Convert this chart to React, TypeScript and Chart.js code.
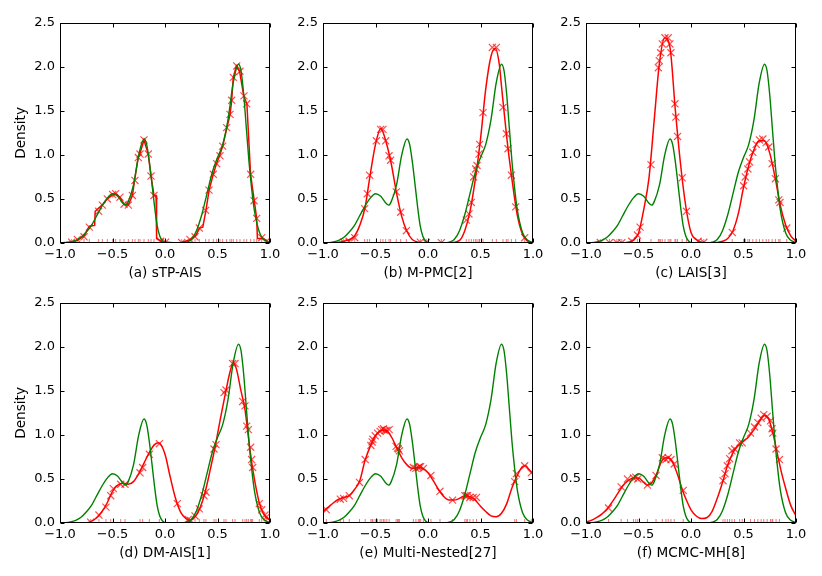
import { useEffect, useRef } from "react";
import { Chart, registerables, type Plugin } from "chart.js";

Chart.register(...registerables);

type Pt = [number, number];

const xTicks = [-1, -0.5, 0, 0.5, 1];
const yTicks = [0, 0.5, 1, 1.5, 2, 2.5];

const captions = [
  "(a) sTP-AIS",
  "(b) M-PMC[2]",
  "(c) LAIS[3]",
  "(d) DM-AIS[1]",
  "(e) Multi-Nested[27]",
  "(f) MCMC-MH[8]"
];

// target density (green), same in every panel
const trueDensity: Pt[] = [
  [-1, 0], [-0.95, 0.003], [-0.9, 0.012], [-0.85, 0.03], [-0.8, 0.065], [-0.75, 0.125],
  [-0.7, 0.2], [-0.65, 0.31], [-0.6, 0.42], [-0.55, 0.51], [-0.5, 0.56], [-0.45, 0.53],
  [-0.4, 0.45], [-0.375, 0.43], [-0.35, 0.47], [-0.3, 0.66], [-0.25, 1.0], [-0.2, 1.18],
  [-0.175, 1.12], [-0.15, 0.93], [-0.125, 0.68], [-0.1, 0.42], [-0.075, 0.2], [-0.05, 0.08],
  [-0.025, 0.025], [0, 0.005], [0.05, 0], [0.15, 0], [0.2, 0.01], [0.25, 0.04], [0.3, 0.14],
  [0.35, 0.32], [0.4, 0.56], [0.45, 0.8], [0.5, 0.97], [0.55, 1.12], [0.6, 1.4], [0.65, 1.82],
  [0.7, 2.03], [0.725, 1.95], [0.75, 1.68], [0.775, 1.3], [0.8, 0.92], [0.825, 0.62],
  [0.85, 0.38], [0.9, 0.12], [0.95, 0.03], [1, 0.005]
];

// estimated densities (red lines)
const estA: Pt[] = [
  [-1, 0], [-0.89, 0.01], [-0.835, 0.03], [-0.77, 0.08], [-0.72, 0.19], [-0.67, 0.2],
  [-0.665, 0.36], [-0.6, 0.43], [-0.55, 0.5], [-0.5, 0.55], [-0.47, 0.56], [-0.43, 0.52],
  [-0.39, 0.44], [-0.35, 0.43], [-0.31, 0.54], [-0.29, 0.71], [-0.255, 0.97], [-0.24, 1.01],
  [-0.2, 1.17], [-0.16, 1.01], [-0.133, 0.76], [-0.105, 0.54], [-0.085, 0.54], [-0.08, 0.05],
  [-0.04, 0.02], [0, 0.01], [0.1, 0], [0.16, 0.005], [0.24, 0.04], [0.29, 0.08], [0.33, 0.17],
  [0.36, 0.18], [0.39, 0.37], [0.42, 0.6], [0.46, 0.78], [0.49, 0.9], [0.52, 0.99], [0.55, 1.1],
  [0.59, 1.31], [0.62, 1.46], [0.635, 1.62], [0.65, 1.88], [0.68, 2.01], [0.71, 1.95],
  [0.75, 1.67], [0.78, 1.58], [0.815, 0.78], [0.85, 0.48], [0.873, 0.28], [0.88, 0.05],
  [0.92, 0.05], [0.95, 0.04], [0.97, 0.02], [1, 0]
];
const estB: Pt[] = [
  [-1, 0], [-0.9, 0.005], [-0.8, 0.02], [-0.7, 0.08], [-0.65, 0.2], [-0.6, 0.4], [-0.55, 0.78],
  [-0.5, 1.12], [-0.45, 1.3], [-0.4, 1.15], [-0.35, 0.9], [-0.3, 0.57], [-0.25, 0.3], [-0.2, 0.13],
  [-0.15, 0.04], [-0.1, 0.012], [-0.05, 0.003], [0, 0], [0.2, 0], [0.3, 0.03], [0.35, 0.14],
  [0.4, 0.36], [0.45, 0.72], [0.5, 1.18], [0.55, 1.75], [0.6, 2.12], [0.64, 2.21], [0.68, 2.02],
  [0.7, 1.78], [0.75, 1.2], [0.8, 0.72], [0.85, 0.32], [0.9, 0.1], [0.95, 0.02], [1, 0]
];
const estC: Pt[] = [
  [-1, 0], [-0.7, 0], [-0.6, 0.01], [-0.55, 0.03], [-0.5, 0.11], [-0.45, 0.38], [-0.4, 0.74],
  [-0.35, 1.4], [-0.3, 2.05], [-0.25, 2.33], [-0.2, 2.22], [-0.15, 1.52], [-0.1, 0.9],
  [-0.05, 0.42], [0, 0.12], [0.05, 0.04], [0.1, 0.01], [0.2, 0], [0.3, 0.02], [0.35, 0.05],
  [0.4, 0.14], [0.45, 0.33], [0.5, 0.63], [0.55, 0.88], [0.6, 1.06], [0.65, 1.16], [0.7, 1.16],
  [0.75, 1.02], [0.8, 0.75], [0.85, 0.43], [0.9, 0.21], [0.95, 0.08], [1, 0.02]
];
const estD: Pt[] = [
  [-1, 0], [-0.8, 0], [-0.72, 0.01], [-0.65, 0.06], [-0.6, 0.13], [-0.55, 0.23], [-0.5, 0.36],
  [-0.45, 0.43], [-0.4, 0.45], [-0.35, 0.44], [-0.3, 0.47], [-0.25, 0.56], [-0.2, 0.68],
  [-0.15, 0.8], [-0.1, 0.89], [-0.06, 0.91], [0, 0.78], [0.05, 0.52], [0.1, 0.28], [0.15, 0.12],
  [0.2, 0.05], [0.24, 0.03], [0.28, 0.06], [0.33, 0.16], [0.38, 0.34], [0.43, 0.6], [0.48, 0.88],
  [0.53, 1.2], [0.58, 1.5], [0.62, 1.72], [0.65, 1.82], [0.68, 1.75], [0.72, 1.52], [0.76, 1.3],
  [0.78, 1.12], [0.8, 0.92], [0.84, 0.58], [0.9, 0.22], [0.95, 0.08], [1, 0.03]
];
const estE: Pt[] = [
  [-1, 0.13], [-0.95, 0.18], [-0.9, 0.23], [-0.85, 0.27], [-0.8, 0.29], [-0.75, 0.31],
  [-0.7, 0.38], [-0.65, 0.48], [-0.6, 0.71], [-0.55, 0.87], [-0.5, 0.99], [-0.45, 1.05],
  [-0.4, 1.05], [-0.35, 0.98], [-0.3, 0.86], [-0.25, 0.74], [-0.2, 0.66], [-0.15, 0.62],
  [-0.1, 0.63], [-0.05, 0.62], [0, 0.57], [0.05, 0.48], [0.1, 0.38], [0.15, 0.3], [0.2, 0.26],
  [0.25, 0.26], [0.3, 0.28], [0.35, 0.31], [0.4, 0.3], [0.45, 0.26], [0.5, 0.19], [0.55, 0.13],
  [0.6, 0.08], [0.65, 0.07], [0.7, 0.11], [0.75, 0.22], [0.8, 0.4], [0.85, 0.54], [0.9, 0.64],
  [0.93, 0.65], [0.96, 0.61], [1, 0.56]
];
const estF: Pt[] = [
  [-1, 0.01], [-0.95, 0.03], [-0.9, 0.06], [-0.85, 0.1], [-0.8, 0.16], [-0.75, 0.24],
  [-0.7, 0.33], [-0.65, 0.42], [-0.6, 0.48], [-0.55, 0.51], [-0.5, 0.51], [-0.45, 0.46],
  [-0.42, 0.43], [-0.38, 0.45], [-0.33, 0.55], [-0.28, 0.7], [-0.24, 0.74], [-0.2, 0.73],
  [-0.16, 0.65], [-0.12, 0.52], [-0.08, 0.37], [-0.04, 0.25], [0, 0.15], [0.05, 0.08],
  [0.1, 0.05], [0.15, 0.06], [0.2, 0.13], [0.25, 0.28], [0.3, 0.46], [0.35, 0.66], [0.4, 0.8],
  [0.45, 0.88], [0.5, 0.93], [0.55, 0.98], [0.6, 1.06], [0.65, 1.15], [0.7, 1.22], [0.74, 1.18],
  [0.78, 1.02], [0.82, 0.8], [0.86, 0.58], [0.9, 0.4], [0.95, 0.2], [1, 0.08]
];

// samples (x markers, also the rug along the bottom)
const samplesA: Pt[] = [
  [-0.889, 0.01], [-0.835, 0.04], [-0.771, 0.07], [-0.721, 0.18], [-0.632, 0.36], [-0.597, 0.43],
  [-0.549, 0.5], [-0.498, 0.55], [-0.47, 0.56], [-0.429, 0.52], [-0.39, 0.44], [-0.349, 0.43],
  [-0.311, 0.54], [-0.286, 0.71], [-0.254, 0.97], [-0.238, 1.01], [-0.2, 1.17], [-0.159, 1.01],
  [-0.133, 0.76], [-0.105, 0.54], [-0.041, 0.02], [0.006, 0.01], [0.159, 0.005], [0.238, 0.04],
  [0.286, 0.07], [0.327, 0.17], [0.387, 0.37], [0.419, 0.6], [0.46, 0.78], [0.492, 0.9],
  [0.524, 0.99], [0.549, 1.1], [0.587, 1.31], [0.619, 1.46], [0.635, 1.62], [0.651, 1.88],
  [0.683, 2.01], [0.714, 1.95], [0.752, 1.67], [0.778, 1.58], [0.816, 0.78], [0.848, 0.48],
  [0.873, 0.28], [0.921, 0.06], [0.968, 0.02]
];
const samplesB: Pt[] = [
  [-0.803, 0.01], [-0.752, 0.02], [-0.698, 0.06], [-0.603, 0.39], [-0.578, 0.56], [-0.556, 0.77],
  [-0.492, 1.16], [-0.451, 1.29], [-0.429, 1.29], [-0.403, 1.16], [-0.371, 0.99], [-0.356, 0.94],
  [-0.302, 0.58], [-0.26, 0.35], [-0.206, 0.14], [-0.073, 0.01], [-0.016, 0.005], [0.127, 0.003],
  [0.365, 0.26], [0.39, 0.33], [0.413, 0.46], [0.435, 0.75], [0.454, 0.84], [0.467, 0.88],
  [0.486, 1.01], [0.492, 1.12], [0.524, 1.48], [0.613, 2.22], [0.651, 2.22], [0.714, 1.54],
  [0.746, 1.24], [0.762, 1.07], [0.794, 0.77], [0.835, 0.41], [0.921, 0.06]
];
const samplesC: Pt[] = [
  [-0.864, 0.005], [-0.776, 0.003], [-0.706, 0.003], [-0.659, 0.003], [-0.564, 0.02],
  [-0.51, 0.09], [-0.485, 0.18], [-0.381, 0.89], [-0.311, 1.99], [-0.302, 2.07], [-0.289, 2.16],
  [-0.273, 2.26], [-0.248, 2.33], [-0.217, 2.33], [-0.201, 2.26], [-0.191, 2.16], [-0.153, 1.58],
  [-0.144, 1.43], [-0.128, 1.21], [-0.084, 0.74], [-0.043, 0.36], [0.068, 0.02], [0.122, 0.008],
  [0.393, 0.12], [0.501, 0.65], [0.517, 0.75], [0.542, 0.84], [0.558, 0.92], [0.589, 1.03],
  [0.621, 1.12], [0.652, 1.17], [0.684, 1.18], [0.716, 1.14], [0.741, 1.09], [0.773, 0.9],
  [0.804, 0.73], [0.836, 0.49], [0.848, 0.46], [0.912, 0.17]
];
const samplesD: Pt[] = [
  [-0.708, 0.01], [-0.629, 0.09], [-0.562, 0.18], [-0.517, 0.31], [-0.492, 0.39], [-0.422, 0.44],
  [-0.381, 0.44], [-0.238, 0.57], [-0.213, 0.63], [-0.149, 0.78], [-0.054, 0.9], [0.117, 0.22],
  [0.222, 0.04], [0.244, 0.03], [0.286, 0.08], [0.327, 0.16], [0.371, 0.31], [0.39, 0.35],
  [0.467, 0.84], [0.486, 0.89], [0.562, 1.48], [0.581, 1.51], [0.644, 1.81], [0.667, 1.81],
  [0.74, 1.38], [0.762, 1.33], [0.778, 1.1], [0.794, 1.06], [0.816, 0.86], [0.825, 0.72],
  [0.835, 0.63], [0.898, 0.22], [0.921, 0.15], [0.952, 0.09], [0.968, 0.07]
];
const samplesE: Pt[] = [
  [-0.968, 0.15], [-0.835, 0.27], [-0.804, 0.28], [-0.75, 0.31], [-0.652, 0.46], [-0.598, 0.72],
  [-0.544, 0.88], [-0.532, 0.92], [-0.525, 0.95], [-0.503, 0.99], [-0.48, 1.02], [-0.456, 1.04],
  [-0.44, 1.06], [-0.424, 1.07], [-0.41, 1.05], [-0.392, 1.05], [-0.37, 1.06], [-0.304, 0.87],
  [-0.29, 0.85], [-0.282, 0.84], [-0.272, 0.82], [-0.139, 0.63], [-0.115, 0.62], [-0.092, 0.63],
  [-0.08, 0.64], [-0.07, 0.64], [-0.044, 0.62], [0.028, 0.54], [0.114, 0.36], [0.234, 0.26],
  [0.351, 0.31], [0.365, 0.31], [0.377, 0.31], [0.399, 0.29], [0.43, 0.29], [0.462, 0.29],
  [0.826, 0.47], [0.842, 0.56], [0.921, 0.65], [0.984, 0.57]
];
const samplesF: Pt[] = [
  [-0.785, 0.17], [-0.665, 0.41], [-0.605, 0.5], [-0.548, 0.51], [-0.526, 0.52], [-0.507, 0.5],
  [-0.415, 0.43], [-0.333, 0.54], [-0.273, 0.74], [-0.239, 0.72], [-0.217, 0.74], [-0.191, 0.72],
  [-0.16, 0.67], [-0.074, 0.37], [0.305, 0.48], [0.324, 0.56], [0.346, 0.65], [0.368, 0.73],
  [0.39, 0.82], [0.415, 0.84], [0.463, 0.91], [0.488, 0.91], [0.567, 1.02], [0.605, 1.09],
  [0.637, 1.14], [0.668, 1.19], [0.693, 1.23], [0.725, 1.21], [0.757, 1.16], [0.772, 1.07],
  [0.779, 1.02], [0.81, 0.84], [0.842, 0.72]
];

const estimates = [estA, estB, estC, estD, estE, estF];
const samples = [samplesA, samplesB, samplesC, samplesD, samplesE, samplesF];

const colLefts = [60, 323, 586];
const rowTops = [22, 302];
const plotW = 210;
const plotH = 221;
const padL = 60;
const padT = 12;
const padR = 16;
const padB = 46;

const FONT = "'DejaVu Sans', sans-serif";
const TICK_SIZE = 13;
const LABEL_SIZE = 13.6;

const fmt = (v: number) => Number(v).toFixed(1).replace("-", "\u2212");

const framePlugin: Plugin<"scatter"> = {
  id: "frame",
  afterDatasetsDraw(chart, _args, opts: any) {
    const { ctx, chartArea: a } = chart;
    const xs = chart.scales.x;
    const ys = chart.scales.y;
    const l = Math.round(a.left) + 0.5;
    const r = Math.round(a.right) - 0.5;
    const t = Math.round(a.top) + 0.5;
    const b = Math.round(a.bottom) - 0.5;
    ctx.save();
    ctx.strokeStyle = "#000";
    ctx.lineWidth = 1;
    ctx.beginPath();
    for (const v of xTicks) {
      const px = Math.round(xs.getPixelForValue(v)) + 0.5;
      ctx.moveTo(px, b);
      ctx.lineTo(px, b - 4);
      ctx.moveTo(px, t);
      ctx.lineTo(px, t + 4);
    }
    for (const v of yTicks) {
      const py = Math.round(ys.getPixelForValue(v)) + 0.5;
      ctx.moveTo(l, py);
      ctx.lineTo(l + 4, py);
      ctx.moveTo(r, py);
      ctx.lineTo(r - 4, py);
    }
    ctx.stroke();
    ctx.strokeRect(l, t, r - l, b - t);

    ctx.fillStyle = "#000";
    ctx.font = `${LABEL_SIZE}px ${FONT}`;
    ctx.textAlign = "center";
    ctx.textBaseline = "middle";
    ctx.fillText(opts.caption, (a.left + a.right) / 2, a.bottom + 30.5);
    if (opts.yLabel) {
      ctx.translate(a.left - 39, (a.top + a.bottom) / 2);
      ctx.rotate(-Math.PI / 2);
      ctx.fillText(opts.yLabel, 0, 0);
    }
    ctx.restore();
  }
};

function Panel({ idx }: { idx: number }) {
  const canvasRef = useRef<HTMLCanvasElement | null>(null);

  useEffect(() => {
    if (!canvasRef.current) {
      return;
    }
    const est = estimates[idx];
    const pts = samples[idx];
    const chart = new Chart(canvasRef.current, {
      type: "scatter",
      data: {
        datasets: [
          {
            data: trueDensity.map(([x, y]) => ({ x, y })),
            showLine: true,
            borderColor: "#008000",
            borderWidth: 1.4,
            pointRadius: 0,
            cubicInterpolationMode: "monotone"
          },
          {
            data: est.map(([x, y]) => ({ x, y })),
            showLine: true,
            borderColor: "#ff0000",
            borderWidth: 1.5,
            pointRadius: 0,
            cubicInterpolationMode: idx === 0 ? "default" : "monotone",
            tension: 0
          },
          {
            data: pts.map(([x, y]) => ({ x, y })),
            showLine: false,
            pointStyle: "crossRot",
            pointRadius: 5,
            borderColor: "rgba(255,0,0,0.7)",
            borderWidth: 1.2
          },
          {
            data: pts.map(([x]) => ({ x, y: 0 })),
            showLine: false,
            pointStyle: "line",
            rotation: 90,
            pointRadius: 4,
            borderColor: "rgba(255,0,0,0.55)",
            borderWidth: 1
          }
        ]
      },
      options: {
        responsive: true,
        maintainAspectRatio: false,
        animation: false,
        events: [],
        layout: { padding: { left: 0, top: padT, right: padR, bottom: 0 } },
        plugins: {
          legend: { display: false },
          tooltip: { enabled: false },
          frame: { caption: captions[idx], yLabel: idx % 3 === 0 ? "Density" : "" }
        } as any,
        scales: {
          x: {
            type: "linear",
            min: -1,
            max: 1,
            afterBuildTicks: (s: any) => {
              s.ticks = xTicks.map((value) => ({ value }));
            },
            afterFit: (s: any) => {
              s.height = padB;
            },
            grid: { display: false, drawTicks: false },
            border: { display: false },
            ticks: {
              padding: 4,
              color: "#000",
              font: { family: FONT, size: TICK_SIZE },
              maxRotation: 0,
              autoSkip: false,
              callback: (v) => fmt(Number(v))
            }
          },
          y: {
            type: "linear",
            min: 0,
            max: 2.5,
            afterBuildTicks: (s: any) => {
              s.ticks = yTicks.map((value) => ({ value }));
            },
            afterFit: (s: any) => {
              s.width = padL;
            },
            grid: { display: false, drawTicks: false },
            border: { display: false },
            ticks: {
              padding: 5,
              color: "#000",
              font: { family: FONT, size: TICK_SIZE },
              autoSkip: false,
              callback: (v) => fmt(Number(v))
            }
          }
        }
      },
      plugins: [framePlugin]
    });
    return () => chart.destroy();
  }, [idx]);

  const col = idx % 3;
  const row = Math.floor(idx / 3);
  return (
    <div
      style={{
        position: "absolute",
        left: colLefts[col] - padL,
        top: rowTops[row] - padT,
        width: padL + plotW + padR,
        height: padT + plotH + padB
      }}
    >
      <canvas ref={canvasRef} />
    </div>
  );
}

export default function App() {
  return (
    <div
      style={{
        position: "fixed",
        left: 0,
        top: 0,
        width: 822,
        height: 576,
        background: "#fff",
        overflow: "hidden"
      }}
    >
      {captions.map((_, i) => (
        <Panel key={i} idx={i} />
      ))}
    </div>
  );
}
